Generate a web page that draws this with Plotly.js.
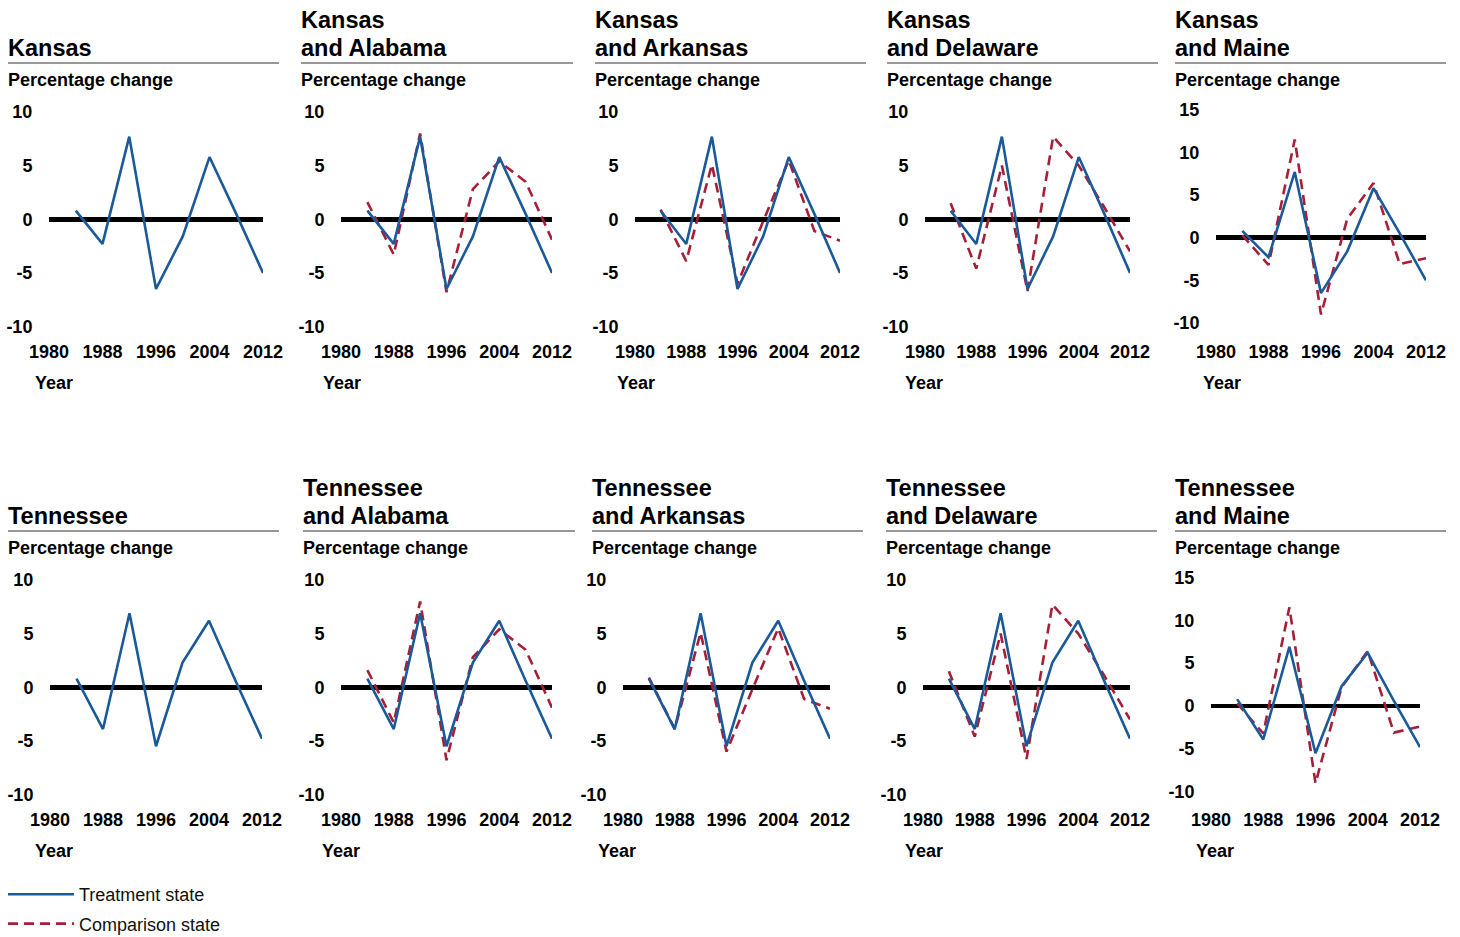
<!DOCTYPE html>
<html><head><meta charset="utf-8">
<script src="https://cdn.plot.ly/plotly-3.0.1.min.js"></script>
<style>html,body{margin:0;padding:0;background:#fff}</style>
</head><body><div id="chart" style="width:1460px;height:937px"></div>
<script>
// ---- data (percentage change by election year) ----
const years = [1984, 1988, 1992, 1996, 2000, 2004, 2008, 2012];
const kansas    = [0.8, -2.3, 7.7, -6.5, -1.6, 5.8, 0.5, -5.0];
const tennessee = [0.8, -3.9, 6.9, -5.5, 2.3, 6.2, 0.6, -4.8];
const alabama   = [1.6, -3.3, 8.0, -6.8, 2.8, 5.4, 3.5, -1.9];
const arkansas  = [0.9, -3.9, 5.1, -6.0, -0.2, 5.5, -1.1, -2.0];
const delaware  = [1.5, -4.6, 5.0, -6.7, 7.7, 5.0, 1.1, -3.0];
const maine     = [0.3, -3.2, 11.5, -9.0, 2.2, 6.4, -3.1, -2.4];

const xTickVals = [1980, 1988, 1996, 2004, 2012];
const xTickText = ['1980', '1988', '1996', '2004', '2012'];
const yTickVals10 = [-10, -5, 0, 5, 10];
const yTickText10 = ['-10', '-5', '0', '5', '10'];
const yTickVals15 = [-10, -5, 0, 5, 10, 15];
const yTickText15 = ['-10', '-5', '0', '5', '10', '15'];

// panel titles: [first line, second line]
const panelTitles = [['Kansas', ''], ['Kansas', 'and Alabama'], ['Kansas', 'and Arkansas'], ['Kansas', 'and Delaware'], ['Kansas', 'and Maine'],
                     ['Tennessee', ''], ['Tennessee', 'and Alabama'], ['Tennessee', 'and Arkansas'], ['Tennessee', 'and Delaware'], ['Tennessee', 'and Maine']];
const treatSeries = [kansas, kansas, kansas, kansas, kansas, tennessee, tennessee, tennessee, tennessee, tennessee];
const compSeries  = [null, alabama, arkansas, delaware, maine, null, alabama, arkansas, delaware, maine];
const seriesNames = ['Treatment state', 'Comparison state'];
const yLabel = 'Percentage change';
const xLabel = 'Year';

// ---- layout geometry (pixels) ----
const W = 1460, H = 937;
const BLUE = '#1b5a98', RED = '#a61f38';
const FONT = 'Liberation Sans, Arial, Helvetica, sans-serif';
const geom = [
  {xp:[49,263],  yp:[112,326.5], big:false, tx:8,    tx1:279,  yx:35,   ty:63,  py:80,  yy:383},
  {xp:[341,552], yp:[112,326.5], big:false, tx:301,  tx1:573,  yx:323,  ty:63,  py:80,  yy:383},
  {xp:[635,840], yp:[112,326.5], big:false, tx:595,  tx1:866,  yx:617,  ty:63,  py:80,  yy:383},
  {xp:[925,1130],yp:[112,326.5], big:false, tx:887,  tx1:1158, yx:905,  ty:63,  py:80,  yy:383},
  {xp:[1216,1426],yp:[109.7,323],big:true,  tx:1175, tx1:1446, yx:1203, ty:63,  py:80,  yy:383},
  {xp:[50,262],  yp:[580,794.5], big:false, tx:8,    tx1:279,  yx:35,   ty:531, py:548, yy:851},
  {xp:[341,552], yp:[580,794.5], big:false, tx:303,  tx1:575,  yx:322,  ty:531, py:548, yy:851},
  {xp:[623,830], yp:[580,794.5], big:false, tx:592,  tx1:863,  yx:598,  ty:531, py:548, yy:851},
  {xp:[923,1130],yp:[580,794.5], big:false, tx:886,  tx1:1157, yx:905,  ty:531, py:548, yy:851},
  {xp:[1211,1420],yp:[577.3,791.8],big:true,tx:1175, tx1:1446, yx:1196, ty:531, py:548, yy:851}
];

const traces = [];
const layout = {
  width: W, height: H,
  margin: {l:0, r:0, t:0, b:0, autoexpand: false},
  paper_bgcolor: '#fff', plot_bgcolor: 'rgba(0,0,0,0)',
  font: {family: FONT, color: '#000'},
  showlegend: true,
  legend: {x: 3/W, xanchor: 'left', y: 1 - 876/H, yanchor: 'top', font: {size: 18, family: FONT, color: '#111'},
           traceorder: 'grouped', tracegroupgap: 3, itemwidth: 66, bgcolor: 'rgba(0,0,0,0)'},
  annotations: [], shapes: []
};
let compShown = false;
const titleFont = {size: 23.5, weight: 'bold', family: FONT, color: '#000'};
const labFont = {size: 18, weight: 'bold', family: FONT, color: '#000'};
geom.forEach((g, i) => {
  const k = i + 1;
  const xa = k === 1 ? 'x' : 'x' + k;
  const ya = k === 1 ? 'y' : 'y' + k;
  if (compSeries[i]) {
    traces.push({x: years, y: compSeries[i], xaxis: xa, yaxis: ya, mode: 'lines', name: seriesNames[1],
      legendgroup: 'c', showlegend: !compShown, hoverinfo: 'skip',
      line: {color: RED, width: 2.6, dash: '10px,6px'}});
    compShown = true;
  }
  traces.push({x: years, y: treatSeries[i], xaxis: xa, yaxis: ya, mode: 'lines', name: seriesNames[0],
    legendgroup: 't', showlegend: k === 1, hoverinfo: 'skip',
    line: {color: BLUE, width: 2.6}});
  layout['xaxis' + (k === 1 ? '' : k)] = {
    domain: [g.xp[0]/W, g.xp[1]/W], range: [1980, 2012], anchor: ya,
    tickmode: 'array', tickvals: xTickVals, ticktext: xTickText, tickfont: labFont,
    ticks: 'outside', ticklen: g.big ? 12 : 9, tickcolor: 'rgba(0,0,0,0)',
    showgrid: false, zeroline: false, showline: false, fixedrange: true
  };
  layout['yaxis' + (k === 1 ? '' : k)] = {
    domain: [1 - g.yp[1]/H, 1 - g.yp[0]/H], range: g.big ? [-10, 15] : [-10, 10], anchor: xa,
    tickmode: 'array', tickvals: g.big ? yTickVals15 : yTickVals10, ticktext: g.big ? yTickText15 : yTickText10,
    tickfont: labFont, ticks: 'outside', ticklen: 12, tickcolor: 'rgba(0,0,0,0)',
    showgrid: false, zeroline: true, zerolinecolor: '#000', zerolinewidth: 4.5, showline: false, fixedrange: true
  };
  const t = panelTitles[i];
  const lines = t[1] ? [t[0], t[1]] : [t[0]];
  lines.forEach((txt, j) => {
    const centerY = g.ty - 15 - (lines.length - 1 - j) * 28;
    layout.annotations.push({xref: 'paper', yref: 'paper', x: (g.tx - 2)/W, y: 1 - centerY/H, xanchor: 'left', yanchor: 'middle',
      showarrow: false, text: txt, font: titleFont});
  });
  layout.annotations.push({xref: 'paper', yref: 'paper', x: (g.tx - 2)/W, y: 1 - g.py/H, xanchor: 'left', yanchor: 'middle',
    showarrow: false, text: yLabel, font: labFont});
  layout.annotations.push({xref: 'paper', yref: 'paper', x: (g.yx - 2)/W, y: 1 - g.yy/H, xanchor: 'left', yanchor: 'middle',
    showarrow: false, text: xLabel, font: labFont});
  layout.shapes.push({type: 'line', xref: 'paper', yref: 'paper', x0: g.tx/W, x1: g.tx1/W, y0: 1 - g.ty/H, y1: 1 - g.ty/H,
    line: {color: '#333', width: 1.2}});
});
Plotly.newPlot('chart', traces, layout, {displayModeBar: false, staticPlot: true});
</script></body></html>
